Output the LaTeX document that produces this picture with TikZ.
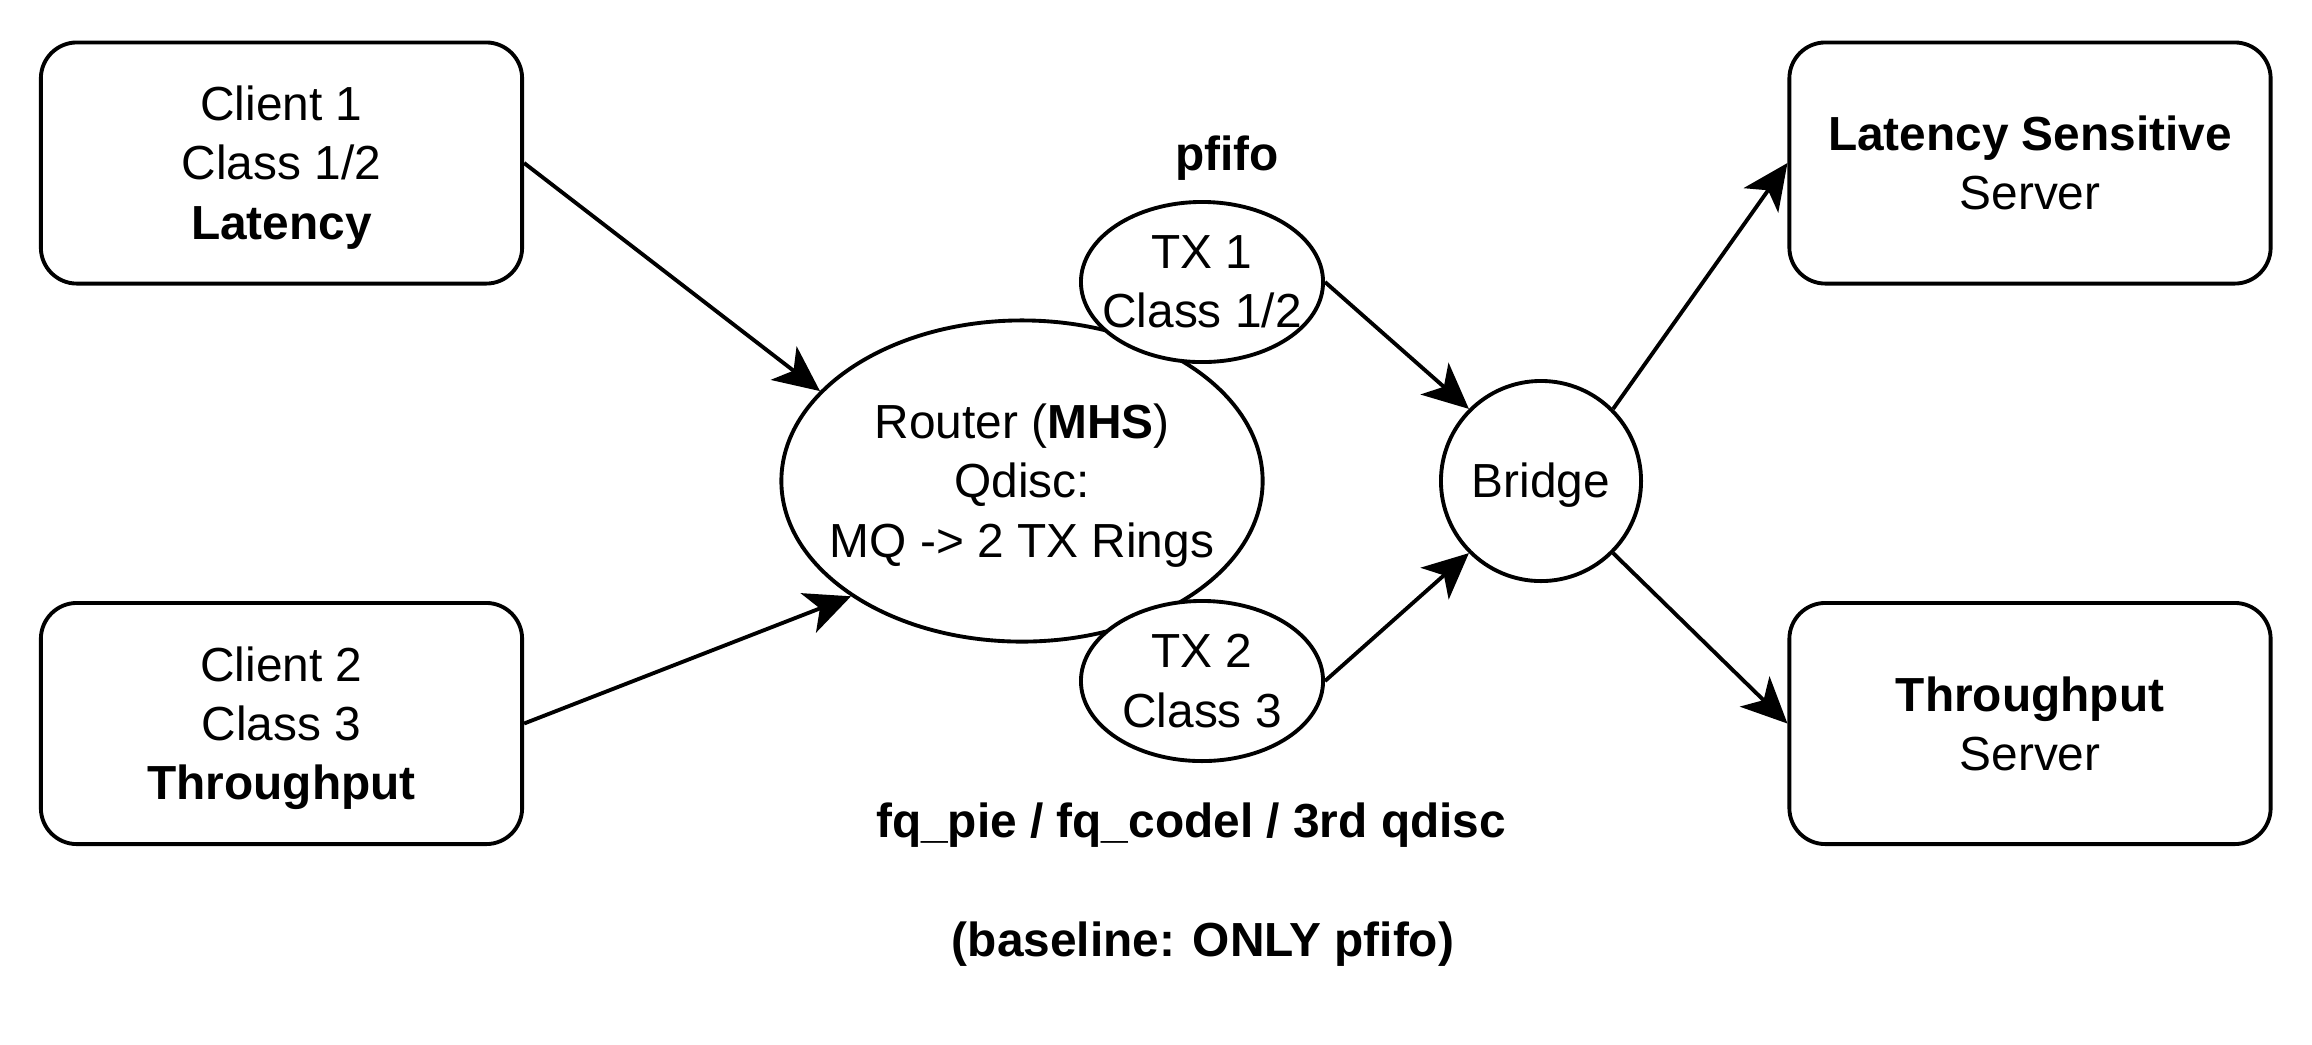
\documentclass[tikz,border=0pt]{standalone}
\usepackage{fontspec}
\setmainfont{Liberation Sans}
\usetikzlibrary{arrows.meta,shapes.geometric}
\begin{document}
\begin{tikzpicture}[x=0.01cm,y=-0.01cm,
  every node/.style={font=\fontsize{13.6}{16.8}\selectfont, align=center, line width=1.1pt},
  txt/.style={label={[yshift=-1.3pt]center:#1}},
  txtb/.style={label={center:#1}},
  box/.style={draw, rounded corners=0.36cm, minimum width=4.81cm, minimum height=2.41cm},
  ell/.style={draw, ellipse, inner sep=0pt},
  conn/.style={line width=1.1pt, -{Stealth[length=13pt,width=12pt,inset=3.5pt]}},
  lbl/.style={font=\fontsize{13.6}{16.8}\selectfont\bfseries}]
\useasboundingbox (0,0) rectangle (2312,1044);
\node[box, txt={Client 1\\Class 1/2\\\textbf{Latency}}] (c1) at (281.5,163) {};
\node[box, txt={Client 2\\Class 3\\\textbf{Throughput}}] (c2) at (281.5,723.5) {};
\node[box, txtb={\textbf{Latency Sensitive}\\Server}] (ls) at (2030,163) {};
\node[box, txtb={\textbf{Throughput}\\Server}] (ts) at (2030,723.5) {};
\node[ell, minimum width=4.81cm, minimum height=3.21cm,
  txt={Router (\textbf{MHS})\\Qdisc:\\MQ -> 2 TX Rings}] (router) at (1022,481) {};
\node[ell, fill=white, minimum width=2.42cm, minimum height=1.6cm,
  txtb={TX 1\\Class 1/2}] (tx1) at (1202,282) {};
\node[ell, fill=white, minimum width=2.42cm, minimum height=1.6cm,
  txtb={TX 2\\Class 3}] (tx2) at (1202,681) {};
\node[draw, circle, minimum size=2.0cm, inner sep=0pt, txt={Bridge}] (br) at (1541,481) {};
\node[lbl] (pf) at (1227,158) {pfifo};
\node[lbl] (fq) at (1191,825) {fq\_pie / fq\_codel / 3rd qdisc};
\node[lbl] (bl) at (1203,944) {(baseline: ONLY pfifo)};
\draw[conn] (c1.east) -- (router.156);
\draw[conn] (c2.east) -- (router.214);
\draw[conn] (tx1.east) -- (br.135);
\draw[conn] (tx2.east) -- (br.225);
\draw[conn] (br.45) -- (ls.west);
\draw[conn] (br.-45) -- (ts.west);
\end{tikzpicture}
\end{document}
